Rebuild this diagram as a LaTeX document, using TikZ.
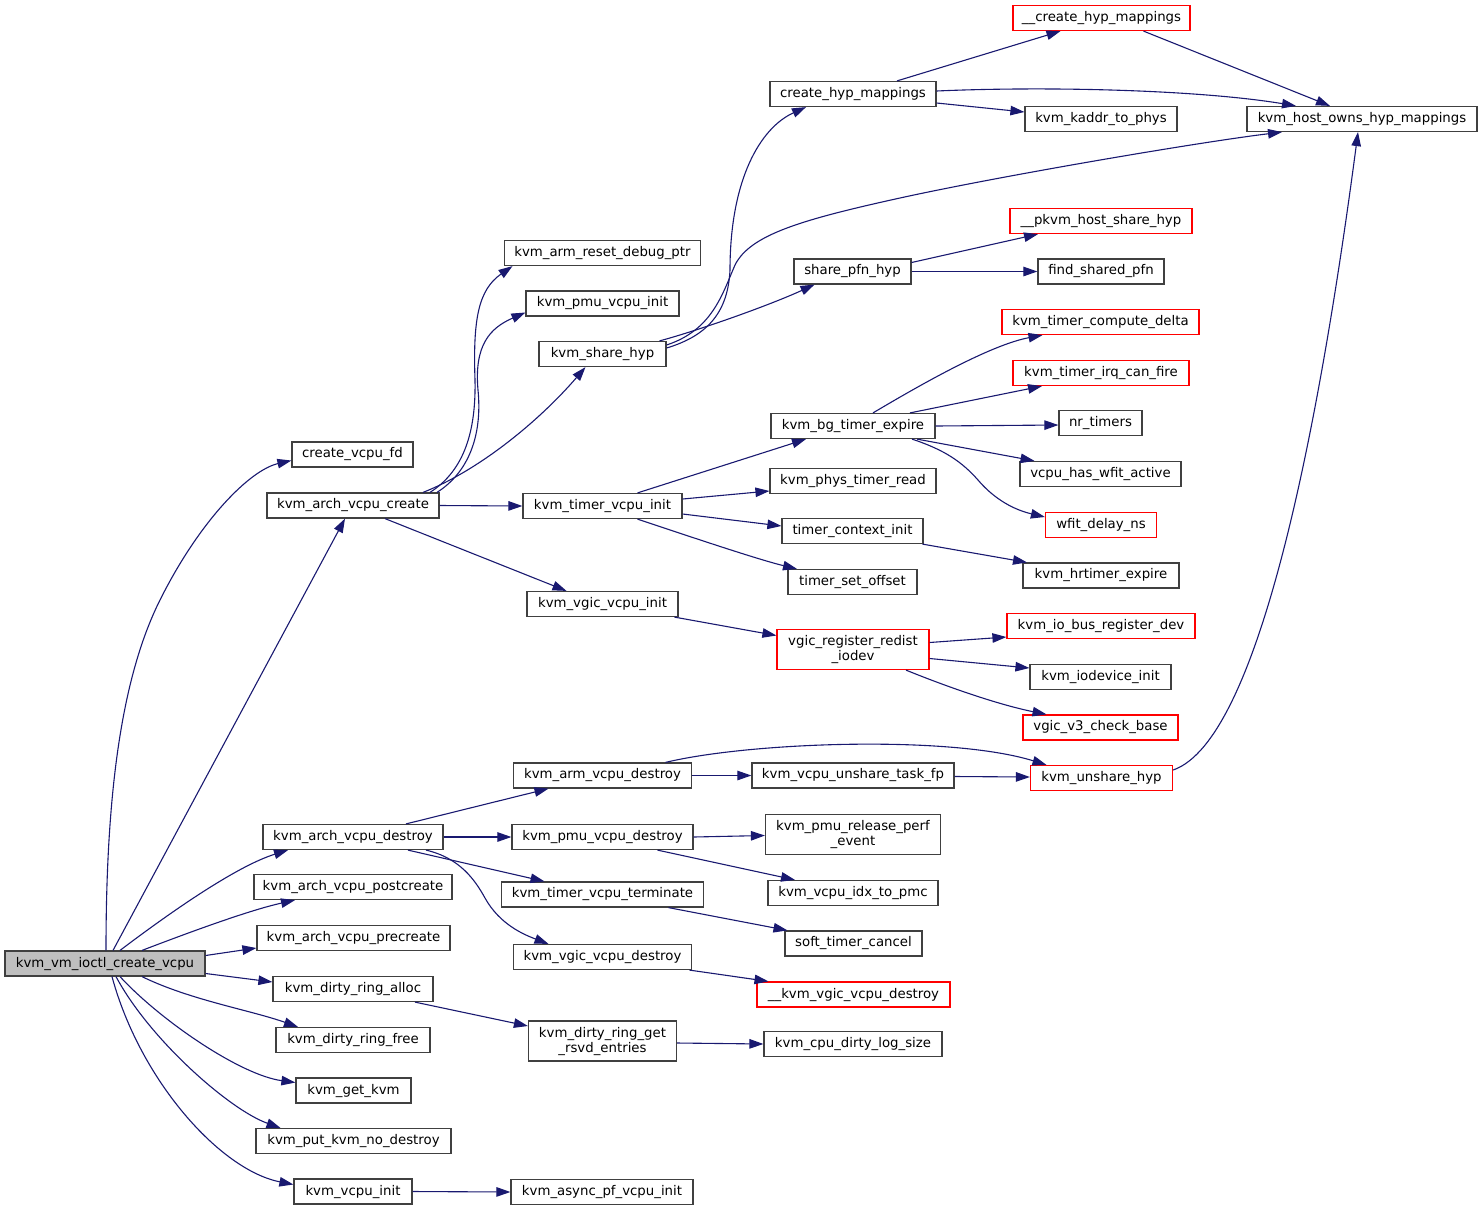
\documentclass[tikz,border=0pt]{standalone}
\usepackage{fontspec}
\setmainfont{DejaVu Sans}
\usetikzlibrary{arrows.meta,calc}
\definecolor{edgeblue}{HTML}{191970}
\definecolor{boxgrey}{HTML}{404040}
\definecolor{rootfill}{HTML}{BFBFBF}
\tikzset{
  fn/.style={draw=boxgrey, line width=1.2pt, fill=white, rectangle, inner sep=0pt,
    minimum height=25pt, align=center, font=\fontsize{13.3}{15}\selectfont},
  tall/.style={minimum height=40pt},
  redfn/.style={draw=red},
  rootfn/.style={fill=rootfill},
  call/.style={draw=edgeblue, line width=1.1pt, -{Triangle[length=14pt,width=9.5pt]}},
}
\begin{document}
\begin{tikzpicture}[x=1pt,y=-1pt]
\useasboundingbox (0,0) rectangle (1483,1211);
% column 1
\node[fn,rootfn,minimum width=200] (root) at (105,963.5) {kvm\_vm\_ioctl\_create\_vcpu};
% column 2
\node[fn,minimum width=121] (cvfd) at (352.5,454.5) {create\_vcpu\_fd};
\node[fn,minimum width=172] (avc) at (353,505.5) {kvm\_arch\_vcpu\_create};
\node[fn,minimum width=180] (avd) at (353,837) {kvm\_arch\_vcpu\_destroy};
\node[fn,minimum width=198] (avpost) at (353,887) {kvm\_arch\_vcpu\_postcreate};
\node[fn,minimum width=193] (avpre) at (353.5,938) {kvm\_arch\_vcpu\_precreate};
\node[fn,minimum width=160] (dra) at (353,989) {kvm\_dirty\_ring\_alloc};
\node[fn,minimum width=154] (drf) at (353,1040) {kvm\_dirty\_ring\_free};
\node[fn,minimum width=115] (getkvm) at (353.5,1090.5) {kvm\_get\_kvm};
\node[fn,minimum width=195] (putkvm) at (353.5,1141) {kvm\_put\_kvm\_no\_destroy};
\node[fn,minimum width=118] (vcpuinit) at (353,1191.5) {kvm\_vcpu\_init};
% column 3
\node[fn,minimum width=196] (reset) at (602.5,253) {kvm\_arm\_reset\_debug\_ptr};
\node[fn,minimum width=153] (pmuinit) at (602.5,303.5) {kvm\_pmu\_vcpu\_init};
\node[fn,minimum width=127] (sharehyp) at (602.5,354) {kvm\_share\_hyp};
\node[fn,minimum width=159] (timerinit) at (602.5,506) {kvm\_timer\_vcpu\_init};
\node[fn,minimum width=151] (vgicinit) at (602.5,604) {kvm\_vgic\_vcpu\_init};
\node[fn,minimum width=178] (armdestroy) at (602.5,775.5) {kvm\_arm\_vcpu\_destroy};
\node[fn,minimum width=181] (pmudestroy) at (602.5,837) {kvm\_pmu\_vcpu\_destroy};
\node[fn,minimum width=202] (timerterm) at (602.5,894.5) {kvm\_timer\_vcpu\_terminate};
\node[fn,minimum width=178] (vgicdestroy) at (602.5,957) {kvm\_vgic\_vcpu\_destroy};
\node[fn,tall,minimum width=148] (rsvd) at (602.5,1041) {kvm\_dirty\_ring\_get\\\_rsvd\_entries};
\node[fn,minimum width=182] (asyncpf) at (602,1192) {kvm\_async\_pf\_vcpu\_init};
% column 4
\node[fn,minimum width=166] (chm) at (853,94) {create\_hyp\_mappings};
\node[fn,minimum width=117] (spfn) at (852.5,271.5) {share\_pfn\_hyp};
\node[fn,minimum width=164] (bgte) at (853,426) {kvm\_bg\_timer\_expire};
\node[fn,minimum width=166] (phys) at (853,481) {kvm\_phys\_timer\_read};
\node[fn,minimum width=141] (tci) at (852.5,531) {timer\_context\_init};
\node[fn,minimum width=129] (tso) at (852.5,582) {timer\_set\_offset};
\node[fn,tall,redfn,minimum width=152] (vrri) at (853,649.5) {vgic\_register\_redist\\\_iodev};
\node[fn,minimum width=202] (unsharefp) at (853,775.5) {kvm\_vcpu\_unshare\_task\_fp};
\node[fn,tall,minimum width=175] (relperf) at (853,834.5) {kvm\_pmu\_release\_perf\\\_event};
\node[fn,minimum width=170] (idx2pmc) at (853,893) {kvm\_vcpu\_idx\_to\_pmc};
\node[fn,minimum width=137] (stc) at (853.5,943.5) {soft\_timer\_cancel};
\node[fn,redfn,minimum width=193] (kvd) at (853.5,994.5) {\_\_kvm\_vgic\_vcpu\_destroy};
\node[fn,minimum width=178] (cdls) at (853,1044) {kvm\_cpu\_dirty\_log\_size};
% column 5
\node[fn,redfn,minimum width=177] (uchm) at (1101.5,18) {\_\_create\_hyp\_mappings};
\node[fn,minimum width=152] (kaddr) at (1101,119) {kvm\_kaddr\_to\_phys};
\node[fn,redfn,minimum width=182] (pkvm) at (1101,221) {\_\_pkvm\_host\_share\_hyp};
\node[fn,minimum width=126] (fspfn) at (1101,271.5) {find\_shared\_pfn};
\node[fn,redfn,minimum width=197] (tcd) at (1100.5,322) {kvm\_timer\_compute\_delta};
\node[fn,redfn,minimum width=176] (irq) at (1101,373) {kvm\_timer\_irq\_can\_fire};
\node[fn,minimum width=83] (nrt) at (1100.5,423) {nr\_timers};
\node[fn,minimum width=161] (wfit) at (1100.5,474) {vcpu\_has\_wfit\_active};
\node[fn,redfn,minimum width=111] (wdns) at (1101,525) {wfit\_delay\_ns};
\node[fn,minimum width=156] (hrt) at (1101,575.5) {kvm\_hrtimer\_expire};
\node[fn,redfn,minimum width=188] (iobus) at (1101,626) {kvm\_io\_bus\_register\_dev};
\node[fn,minimum width=141] (iodev) at (1100.5,677) {kvm\_iodevice\_init};
\node[fn,redfn,minimum width=155] (v3) at (1100.5,727.5) {vgic\_v3\_check\_base};
\node[fn,redfn,minimum width=142] (unshare) at (1101.5,778) {kvm\_unshare\_hyp};
% column 6
\node[fn,minimum width=230] (owns) at (1362,119) {kvm\_host\_owns\_hyp\_mappings};

% ---- edges from root
\draw[call] ($(root.north)+(1,0)$) .. controls (106,800) and (120,680) .. (160,600)
  .. controls (200,520) and (250,470) .. ($(cvfd.west)+(0,6)$);
\draw[call] ($(root.north)+(8,0)$) -- ($(avc.south)+(-8,0)$);
\draw[call] ($(root.north)+(15,0)$) .. controls (180,905) and (240,865) .. ($(avd.south)+(-65,0)$);
\draw[call] ($(root.north)+(37,0)$) .. controls (190,932) and (250,910) .. ($(avpost.south)+(-58,0)$);
\draw[call] ($(root.east)+(0,-8)$) -- ($(avpre.west)+(0,10)$);
\draw[call] ($(root.east)+(0,10)$) -- ($(dra.west)+(0,-7)$);
\draw[call] ($(root.south)+(37,0)$) .. controls (190,1000) and (250,1010) .. ($(drf.north)+(-55,0)$);
\draw[call] ($(root.south)+(15,0)$) .. controls (160,1020) and (240,1075) .. ($(getkvm.west)+(0,-8)$);
\draw[call] ($(root.south)+(11,0)$) .. controls (150,1040) and (230,1110) .. ($(putkvm.north)+(-73,0)$);
\draw[call] ($(root.south)+(7,0)$) .. controls (140,1080) and (220,1170) .. ($(vcpuinit.west)+(0,-7)$);

% ---- kvm_arch_vcpu_create
\draw[call] ($(avc.north)+(77,0)$) .. controls (465,470) and (476,430) .. (475,380)
  .. controls (473,320) and (478,290) .. ($(reset.south)+(-90,0)$);
\draw[call] ($(avc.north)+(84,0)$) .. controls (472,470) and (482,430) .. (478,390)
  .. controls (474,345) and (490,328) .. ($(pmuinit.west)+(0,9)$);
\draw[call] ($(avc.north)+(70,0)$) .. controls (480,470) and (540,420) .. ($(sharehyp.south)+(-17,0)$);
\draw[call] (avc.east) -- (timerinit.west);
\draw[call] ($(avc.south)+(32,0)$) -- ($(vgicinit.north)+(-36,0)$);

% ---- kvm_share_hyp
\draw[call] ($(sharehyp.north)+(57,0)$) .. controls (700,330) and (770,305) .. ($(spfn.south)+(-38,0)$);
\draw[call] ($(sharehyp.east)+(0,-6)$) .. controls (710,335) and (728,310) .. (730,270)
  .. controls (730,180) and (760,128) .. ($(chm.south)+(-47,0)$);
\draw[call] ($(sharehyp.east)+(0,-9)$) .. controls (712,330) and (722,295) .. (735,265)
  .. controls (750,235) and (800,220) .. (900,198)
  .. controls (1000,176) and (1200,142) .. ($(owns.south)+(-80,0)$);

% ---- create_hyp_mappings
\draw[call] ($(chm.north)+(44,0)$) -- ($(uchm.south)+(-41,0)$);
\draw[call] ($(chm.east)+(0,-3)$) .. controls (1050,86) and (1200,90) .. ($(owns.north)+(-66,0)$);
\draw[call] ($(chm.east)+(0,9)$) -- ($(kaddr.west)+(0,-7)$);
\draw[call] ($(uchm.south)+(42,0)$) -- ($(owns.north)+(-32,0)$);
\draw[call] ($(unshare.east)+(0,-8)$) .. controls (1260,740) and (1320,420) .. ($(owns.south)+(-4,0)$);

% ---- share_pfn_hyp
\draw[call] ($(spfn.east)+(0,-9)$) -- ($(pkvm.south)+(-63,0)$);
\draw[call] (spfn.east) -- (fspfn.west);

% ---- kvm_timer_vcpu_init
\draw[call] ($(timerinit.north)+(35,0)$) -- ($(bgte.south)+(-47,0)$);
\draw[call] ($(timerinit.east)+(0,-7)$) -- ($(phys.west)+(0,10)$);
\draw[call] ($(timerinit.east)+(0,8)$) -- ($(tci.west)+(0,-5)$);
\draw[call] ($(timerinit.south)+(35,0)$) .. controls (700,540) and (760,560) .. ($(tso.north)+(-55.5,0)$);

% ---- kvm_vgic_vcpu_init
\draw[call] ($(vgicinit.south)+(72,0)$) -- ($(vrri.west)+(0,-14)$);

% ---- kvm_bg_timer_expire
\draw[call] ($(bgte.north)+(20,0)$) .. controls (920,385) and (990,345) .. ($(tcd.south)+(-58,0)$);
\draw[call] ($(bgte.north)+(57,0)$) -- ($(irq.south)+(-59,0)$);
\draw[call] (bgte.east) -- ($(nrt.west)+(0,2)$);
\draw[call] ($(bgte.south)+(64,0)$) -- ($(wfit.north)+(-66,0)$);
\draw[call] ($(bgte.south)+(59,0)$) .. controls (945,450) and (962,462) .. (978,480)
  .. controls (995,500) and (1015,510) .. ($(wdns.west)+(0,-8)$);

\draw[call] ($(tci.south)+(70,0)$) -- ($(hrt.north)+(-74,0)$);

% ---- vgic_register_redist_iodev
\draw[call] ($(vrri.east)+(0,-7)$) -- ($(iobus.west)+(0,11)$);
\draw[call] ($(vrri.east)+(0,9)$) -- ($(iodev.west)+(0,-9)$);
\draw[call] ($(vrri.south)+(53,0)$) .. controls (950,688) and (1000,705) .. ($(v3.north)+(-54,0)$);

% ---- kvm_arch_vcpu_destroy
\draw[call] ($(avd.north)+(53,0)$) -- ($(armdestroy.south)+(-54,0)$);
\draw[call] (avd.east) -- (pmudestroy.west);
\draw[call] ($(avd.south)+(55,0)$) -- ($(timerterm.north)+(-58,0)$);
\draw[call] ($(avd.south)+(73,0)$) .. controls (460,858) and (475,880) .. (485,898)
  .. controls (500,925) and (525,935) .. ($(vgicdestroy.north)+(-54,0)$);

% ---- kvm_arm_vcpu_destroy
\draw[call] (armdestroy.east) -- (unsharefp.west);
\draw[call] ($(armdestroy.north)+(63,0)$) .. controls (750,742) and (950,735) .. ($(unshare.north)+(-55,0)$);
\draw[call] ($(unsharefp.east)+(0,1)$) -- ($(unshare.west)+(0,-1)$);

% ---- kvm_pmu_vcpu_destroy
\draw[call] (pmudestroy.east) -- ($(relperf.west)+(0,1)$);
\draw[call] ($(pmudestroy.south)+(55,0)$) -- ($(idx2pmc.north)+(-58,0)$);

\draw[call] ($(timerterm.south)+(66,0)$) -- ($(stc.north)+(-66,0)$);
\draw[call] ($(vgicdestroy.south)+(87,0)$) -- ($(kvd.north)+(-85,0)$);
\draw[call] ($(dra.south)+(62,0)$) -- ($(rsvd.west)+(0,-15)$);
\draw[call] ($(rsvd.east)+(0,2)$) -- (cdls.west);
\draw[call] (vcpuinit.east) -- (asyncpf.west);
\end{tikzpicture}
\end{document}
